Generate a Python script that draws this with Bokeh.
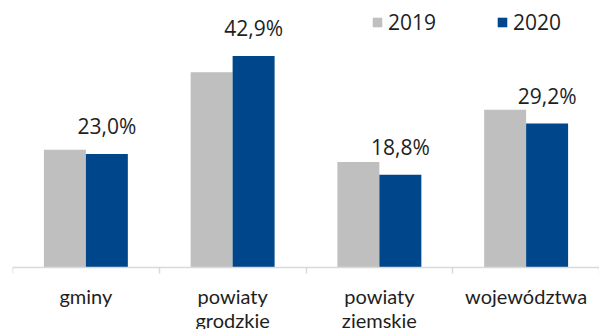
import numpy as np
from bokeh.plotting import figure
from bokeh.models import Range1d, FixedTicker, Legend, LegendItem, ColumnDataSource
from bokeh.core.properties import value
from bokeh.embed import file_html
from bokeh.resources import INLINE

categories = ["gminy", "powiaty\ngrodzkie", "powiaty\nziemskie", "województwa"]
series_names = ["2019", "2020"]
values_2019 = [23.9, 39.6, 21.4, 32.0]
values_2020 = [23.0, 42.9, 18.8, 29.2]
label_texts = ["23,0%", "42,9%", "18,8%", "29,2%"]

GRAY = "#BFBFBF"
BLUE = "#00468B"
TEXT = "#1E1E1E"
NUM_FONT = "Open Sans"
CAT_FONT = "Lato"

n = len(categories)
idx = np.arange(n)
bw = 0.286

p = figure(width=599, height=329, output_backend="svg", toolbar_location=None,
           x_range=Range1d(0, n), y_range=Range1d(-12.58, 54.16),
           min_border_left=12, min_border_right=0, min_border_top=0, min_border_bottom=0)
p.outline_line_color = None
p.background_fill_color = "white"
p.border_fill_color = "white"
p.grid.visible = False
p.yaxis.visible = False

src = ColumnDataSource(dict(
    x19=idx + 0.5 - bw / 2, x20=idx + 0.5 + bw / 2,
    v19=values_2019, v20=values_2020, lab=label_texts))

r19 = p.vbar(x="x19", top="v19", width=bw, bottom=0, source=src,
             fill_color=GRAY, line_color=None)
r20 = p.vbar(x="x20", top="v20", width=bw, bottom=0, source=src,
             fill_color=BLUE, line_color=None)

p.text(x="x20", y="v20", text="lab", source=src, text_align="center",
       text_baseline="bottom", y_offset=-14, text_font=value(NUM_FONT),
       text_font_size="21px", text_color=TEXT)

ax = p.xaxis[0]
ax.fixed_location = 0
ax.ticker = FixedTicker(ticks=list(idx + 0.5), minor_ticks=list(range(n + 1)))
ax.major_label_overrides = {float(i + 0.5): c for i, c in enumerate(categories)}
ax.axis_line_color = "#D9D9D9"
ax.axis_line_width = 1.5
ax.major_tick_line_color = None
ax.minor_tick_line_color = "#D9D9D9"
ax.minor_tick_line_width = 1.5
ax.minor_tick_in = 0
ax.minor_tick_out = 6
ax.major_tick_in = 0
ax.major_tick_out = 0
ax.major_label_standoff = 11
ax.major_label_text_font = CAT_FONT
ax.major_label_text_font_size = "20px"
ax.major_label_text_line_height = 1.0
ax.major_label_text_color = TEXT

legend = Legend(items=[LegendItem(label=series_names[0], renderers=[r19]),
                       LegendItem(label=series_names[1], renderers=[r20])],
                location=(359, 293), orientation="horizontal",
                glyph_width=12, glyph_height=12, label_standoff=5, spacing=60,
                padding=0, margin=0, border_line_color=None,
                background_fill_alpha=0,
                label_text_font=NUM_FONT, label_text_font_size="21px",
                label_text_color=TEXT, label_height=20)
p.add_layout(legend, "center")

open("out.html", "w").write(file_html(p, INLINE))
